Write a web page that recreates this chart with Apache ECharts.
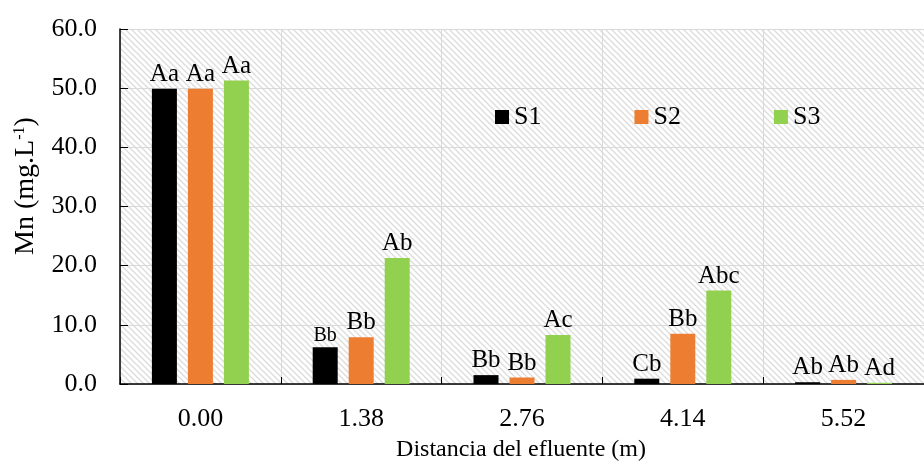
<!DOCTYPE html>
<html>
<head>
<meta charset="utf-8">
<script src="https://cdn.jsdelivr.net/npm/echarts@6/dist/echarts.min.js"></script>
<style>
html,body{margin:0;padding:0;background:#fff;}
#chart{width:924px;height:470px;}
</style>
</head>
<body>
<div id="chart"></div>
<script>
var categories = ['0.00', '1.38', '2.76', '4.14', '5.52'];
var seriesNames = ['S1', 'S2', 'S3'];
var s1 = [49.9, 6.2, 1.5, 0.9, 0.3];
var s2 = [49.9, 7.9, 1.1, 8.5, 0.7];
var s3 = [51.3, 21.3, 8.3, 15.8, 0.2];
var s1Letters = ['Aa', 'Bb', 'Bb', 'Cb', 'Ab'];
var s2Letters = ['Aa', 'Bb', 'Bb', 'Bb', 'Ab'];
var s3Letters = ['Aa', 'Ab', 'Ac', 'Abc', 'Ad'];
var yTicks = [0, 10, 20, 30, 40, 50, 60];

var FONT = 'Liberation Serif';

function hatch() {
  var n = 6;
  var c = document.createElement('canvas');
  c.width = n; c.height = n;
  var ctx = c.getContext('2d');
  ctx.fillStyle = '#ffffff';
  ctx.fillRect(0, 0, n, n);
  ctx.strokeStyle = '#dddddd';
  ctx.lineWidth = 1.4;
  ctx.beginPath();
  ctx.moveTo(0, 0); ctx.lineTo(n, n);
  ctx.moveTo(-1, n - 1); ctx.lineTo(1, n + 1);
  ctx.moveTo(n - 1, -1); ctx.lineTo(n + 1, 1);
  ctx.stroke();
  return c;
}

var colors = ['#000000', '#ED7D31', '#92D050'];
var letterSets = [s1Letters, s2Letters, s3Letters];
var valueSets = [s1, s2, s3];

function makeData(vals, si) {
  return vals.map(function (v, i) {
    var item = { value: v };
    if (si === 0 && i === 1) {
      item.label = { fontSize: 20 };
    }
    return item;
  });
}

var chart = echarts.init(document.getElementById('chart'));
var option = {
  animation: false,
  color: colors,
  grid: {
    left: 120, top: 29, right: -12.5, bottom: 86,
    show: true, borderWidth: 0,
    backgroundColor: { image: hatch(), repeat: 'repeat' }
  },
  legend: {
    data: seriesNames,
    left: 490, top: 99,
    itemWidth: 14, itemHeight: 14, itemGap: 93,
    icon: 'rect',
    textStyle: { fontFamily: FONT, fontSize: 26, color: '#000' }
  },
  xAxis: {
    type: 'category',
    data: categories,
    axisLine: { lineStyle: { color: '#000', width: 1.5 } },
    axisTick: { show: true, inside: true, length: 7, lineStyle: { color: '#000' } },
    axisLabel: { fontFamily: FONT, fontSize: 26, color: '#000', margin: 22 },
    splitLine: { show: true, lineStyle: { color: '#d9d9d9', width: 1 } }
  },
  yAxis: {
    type: 'value',
    min: 0, max: 60, interval: 10,
    axisLine: { show: true, lineStyle: { color: '#000', width: 1.5 } },
    axisTick: { show: true, inside: true, length: 8, lineStyle: { color: '#000' } },
    axisLabel: {
      fontFamily: FONT, fontSize: 26, color: '#000', margin: 23,
      formatter: function (v) { return yTicks.indexOf(v) >= 0 ? v.toFixed(1) : ''; }
    },
    splitLine: { show: true, lineStyle: { color: '#d9d9d9', width: 1 } }
  },
  graphic: [
    {
      type: 'text',
      x: 26, y: 186,
      rotation: Math.PI / 2,
      style: {
        text: '{a|Mn (mg.L}{s|-1}{a|)}',
        align: 'center', verticalAlign: 'middle',
        rich: {
          a: { fontFamily: FONT, fontSize: 28, fill: '#000' },
          s: { fontFamily: FONT, fontSize: 16, fill: '#000', verticalAlign: 'top', padding: [0, 0, 12, 0] }
        }
      }
    },
    {
      type: 'text',
      x: 521, y: 450,
      style: {
        text: 'Distancia del efluente (m)',
        fontFamily: FONT, fontSize: 24, fill: '#000',
        align: 'center', verticalAlign: 'middle'
      }
    }
  ],
  series: valueSets.map(function (vals, si) {
    return {
      name: seriesNames[si],
      type: 'bar',
      barWidth: 25,
      barGap: '44%',
      data: makeData(vals, si),
      label: {
        show: true, position: 'top', distance: 2,
        fontFamily: FONT, fontSize: 25, color: '#000',
        formatter: function (p) { return letterSets[si][p.dataIndex]; }
      }
    };
  })
};
chart.setOption(option);
</script>
</body>
</html>
